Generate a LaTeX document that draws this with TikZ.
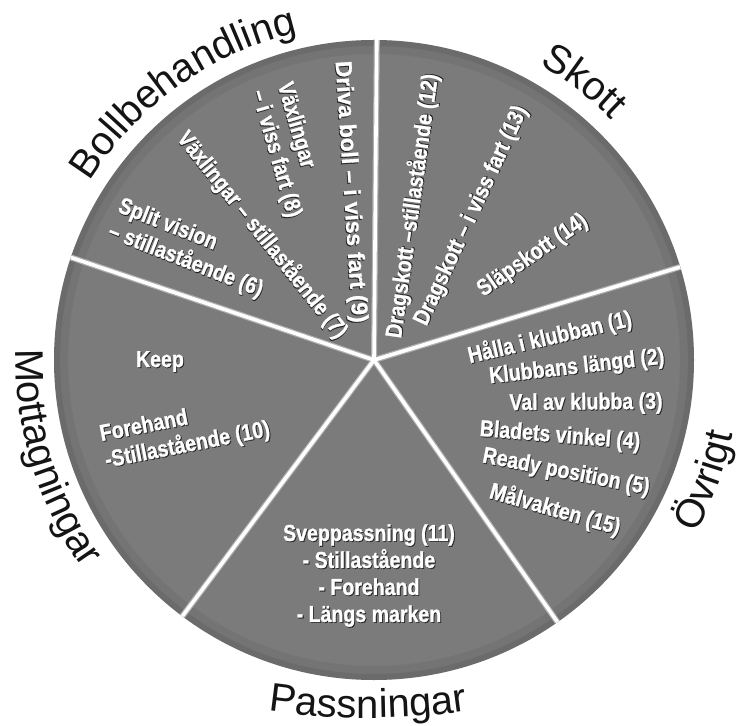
\documentclass[tikz,border=0pt]{standalone}
\usepackage{fontspec}
\setmainfont{Liberation Sans}
\newfontfamily\boldcond[FakeStretch=0.85, FakeBold=1.2]{Liberation Sans Bold}
\usetikzlibrary{decorations.text}

\definecolor{piegray}{RGB}{123,123,123}
\definecolor{textshade}{RGB}{35,35,35}
\definecolor{spokeedge}{RGB}{175,175,175}
\definecolor{inkblack}{RGB}{20,20,20}

% white lettering with a dark shadow edge
\newcommand\rimtext[1]{\leavevmode
  \rlap{\color{textshade}\kern.9pt\raisebox{-.9pt}{#1}}%
  {\color{white}#1}}
\newcommand\outerfont{\color{inkblack}\fontsize{40}{40}\selectfont}

\tikzset{
  inlabel/.style={font=\boldcond\fontsize{23}{27}\selectfont,
                  inner sep=0pt, outer sep=0pt},
  spokeline/.style={line width=6pt, draw=spokeedge},
  spokecore/.style={line width=3.6pt, draw=white},
  rimlabel/.style={decorate, decoration={text along path,
                  text align=center, text={#1}}},
}

\begin{document}
\begin{tikzpicture}[x=1pt,y=1pt]
  \fill[white] (-374,-365) rectangle (372,360);
  \useasboundingbox (-374,-365) rectangle (372,360);

  % disc with a soft darker rim
  \fill[piegray] (0,0) circle[radius=320];
  \draw[black, opacity=.05, line width=14pt] (0,0) circle[radius=313];
  \draw[black, opacity=.07, line width=6pt] (0,0) circle[radius=317];

  % sector borders
  \coordinate (c) at (0,0);
  \coordinate (s1) at (89.5:320);
  \coordinate (s2) at (161.3:320);
  \coordinate (s3) at (233.2:320);
  \coordinate (s4) at (305:320);
  \coordinate (s5) at (16.9:320);
  \foreach \s in {s1,s2,s3,s4,s5} \draw[spokeline] (c) -- (\s);
  \foreach \s in {s1,s2,s3,s4,s5} \draw[spokecore] (c) -- (\s);

  % headings round the rim
  \path[rimlabel={|\outerfont|Bollbehandling}]
    (165.5:336) arc[start angle=165.5, end angle=85.5, radius=336];
  \path[rimlabel={|\outerfont|Skott}]
    (78:338) arc[start angle=78, end angle=28, radius=338];
  \path[rimlabel={|\outerfont|Övrigt}]
    (-45:366) arc[start angle=-45, end angle=5, radius=366];
  \path[rimlabel={|\outerfont|Passningar}]
    ([shift={(-6,342)}]258:700) arc[start angle=258, end angle=282, radius=700];
  \path[rimlabel={|\outerfont|Mottagningar}]
    (167:358) arc[start angle=167, end angle=227, radius=358];

  % Skott
  \node[inlabel, rotate=82] (d12) at (39,154) {\rimtext{Dragskott –stillastående (12)}};
  \node[inlabel, rotate=65] (d13) at (98,144) {\rimtext{Dragskott – i viss fart (13)}};
  \node[inlabel, rotate=34.6] (s14) at (159,104) {\rimtext{Släpskott (14)}};

  % Bollbehandling
  \node[inlabel, rotate=-86.3, xscale=1.16] (b9) at (-24.5,168) {\rimtext{Driva boll – i viss fart (9)}};
  \node[inlabel, rotate=-74, anchor=west, align=left] (b8) at (-104,273)
    {\rimtext{Växlingar}\\\rimtext{– i viss fart (8)}};
  \node[inlabel, rotate=-51.3] (b7) at (-112,125) {\rimtext{Växlingar – stillastående (7)}};
  \node[inlabel, rotate=-21.5, anchor=west, align=left] (b6) at (-260,141)
    {\rimtext{Split vision}\\\rimtext{– stillastående (6)}};

  % Mottagningar
  \node[inlabel] (m0) at (-214,-2) {\rimtext{Keep}};
  \node[inlabel, rotate=11, anchor=west, align=left] (m10) at (-271,-89)
    {\rimtext{Forehand}\\\rimtext{-Stillastående (10)}};

  % Passningar
  \node[inlabel, align=center] (p11) at (-5,-216)
    {\rimtext{Sveppassning (11)}\\\rimtext{- Stillastående}\\\rimtext{- Forehand}\\\rimtext{- Längs marken}};

  % Övrigt
  \node[inlabel, rotate=13] (o1) at (176,22) {\rimtext{Hålla i klubban (1)}};
  \node[inlabel, rotate=6.5] (o2) at (203,-8) {\rimtext{Klubbans längd (2)}};
  \node[inlabel, rotate=0.5] (o3) at (212,-44) {\rimtext{Val av klubba (3)}};
  \node[inlabel, rotate=-4.7] (o4) at (186,-77) {\rimtext{Bladets vinkel (4)}};
  \node[inlabel, rotate=-11] (o5) at (192,-113) {\rimtext{Ready position (5)}};
  \node[inlabel, rotate=-16] (o15) at (181,-150) {\rimtext{Målvakten (15)}};
\end{tikzpicture}
\end{document}
